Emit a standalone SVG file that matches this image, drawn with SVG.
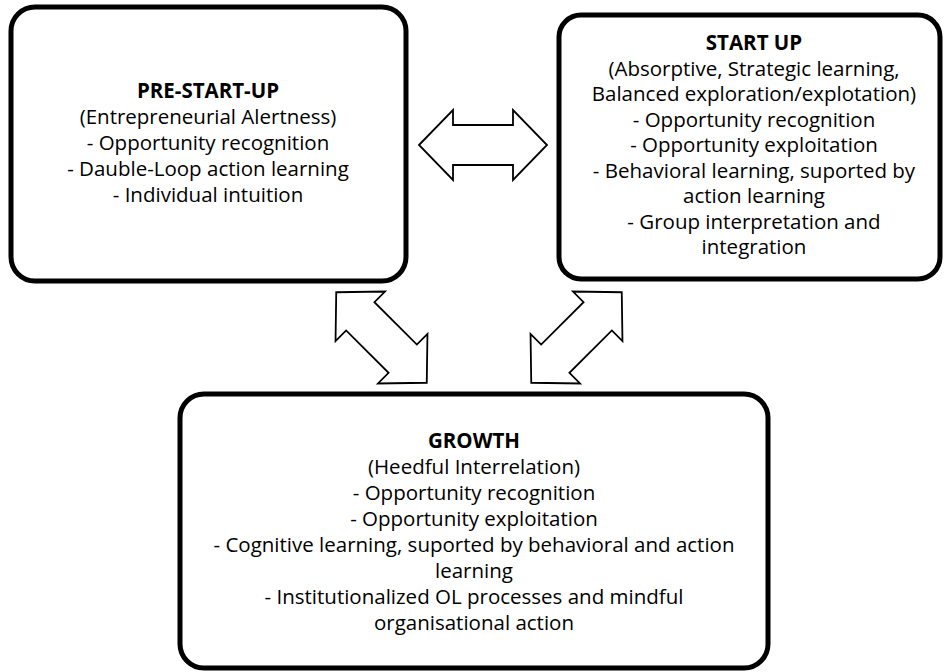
<svg xmlns="http://www.w3.org/2000/svg" width="944" height="672" viewBox="0 0 944 672">
<defs>
<style>
.box{fill:#fff;stroke:#000;stroke-width:5}
.arr{fill:#fff;stroke:#000;stroke-width:1.8;stroke-linejoin:miter}
text{font-family:"Open Sans","Liberation Sans",sans-serif;font-size:20.5px;fill:#000;text-anchor:middle}
.b{font-weight:bold}
</style>
<path id="dbl" d="M-64,0 L-30,-35 L-30,-20 L30,-20 L30,-35 L64,0 L30,35 L30,20 L-30,20 L-30,35 Z"/>
</defs>
<rect width="944" height="672" fill="#fff"/>
<g id="connectors">
<use href="#dbl" class="arr" transform="translate(483,145)"/>
<use href="#dbl" class="arr" transform="translate(381.5,337.5) rotate(45)"/>
<use href="#dbl" class="arr" transform="translate(576.5,337.5) rotate(-45)"/>
</g>
<g id="pre-start-up">
<rect class="box" x="11" y="7" width="395" height="274" rx="24"/>
<text x="208" y="98" class="b">PRE-START-UP</text>
<text x="208" y="124">(Entrepreneurial Alertness)</text>
<text x="208" y="150">- Opportunity recognition</text>
<text x="208" y="176">- Dauble-Loop action learning</text>
<text x="208" y="202">- Individual intuition</text>
</g>
<g id="start-up">
<rect class="box" x="559" y="15" width="381" height="264" rx="22"/>
<text x="754" y="50" class="b">START UP</text>
<text x="754" y="75.5">(Absorptive, Strategic learning,</text>
<text x="754" y="101">Balanced exploration/explotation)</text>
<text x="754" y="126.5">- Opportunity recognition</text>
<text x="754" y="152">- Opportunity exploitation</text>
<text x="754" y="177.5">- Behavioral learning, suported by</text>
<text x="754" y="203">action learning</text>
<text x="754" y="228.5">- Group interpretation and</text>
<text x="754" y="254">integration</text>
</g>
<g id="growth">
<rect class="box" x="180" y="394" width="588" height="274" rx="24"/>
<text x="474" y="448" class="b">GROWTH</text>
<text x="474" y="474">(Heedful Interrelation)</text>
<text x="474" y="500">- Opportunity recognition</text>
<text x="474" y="526">- Opportunity exploitation</text>
<text x="474" y="552">- Cognitive learning, suported by behavioral and action</text>
<text x="474" y="578">learning</text>
<text x="474" y="604">- Institutionalized OL processes and mindful</text>
<text x="474" y="630">organisational action</text>
</g>
</svg>
